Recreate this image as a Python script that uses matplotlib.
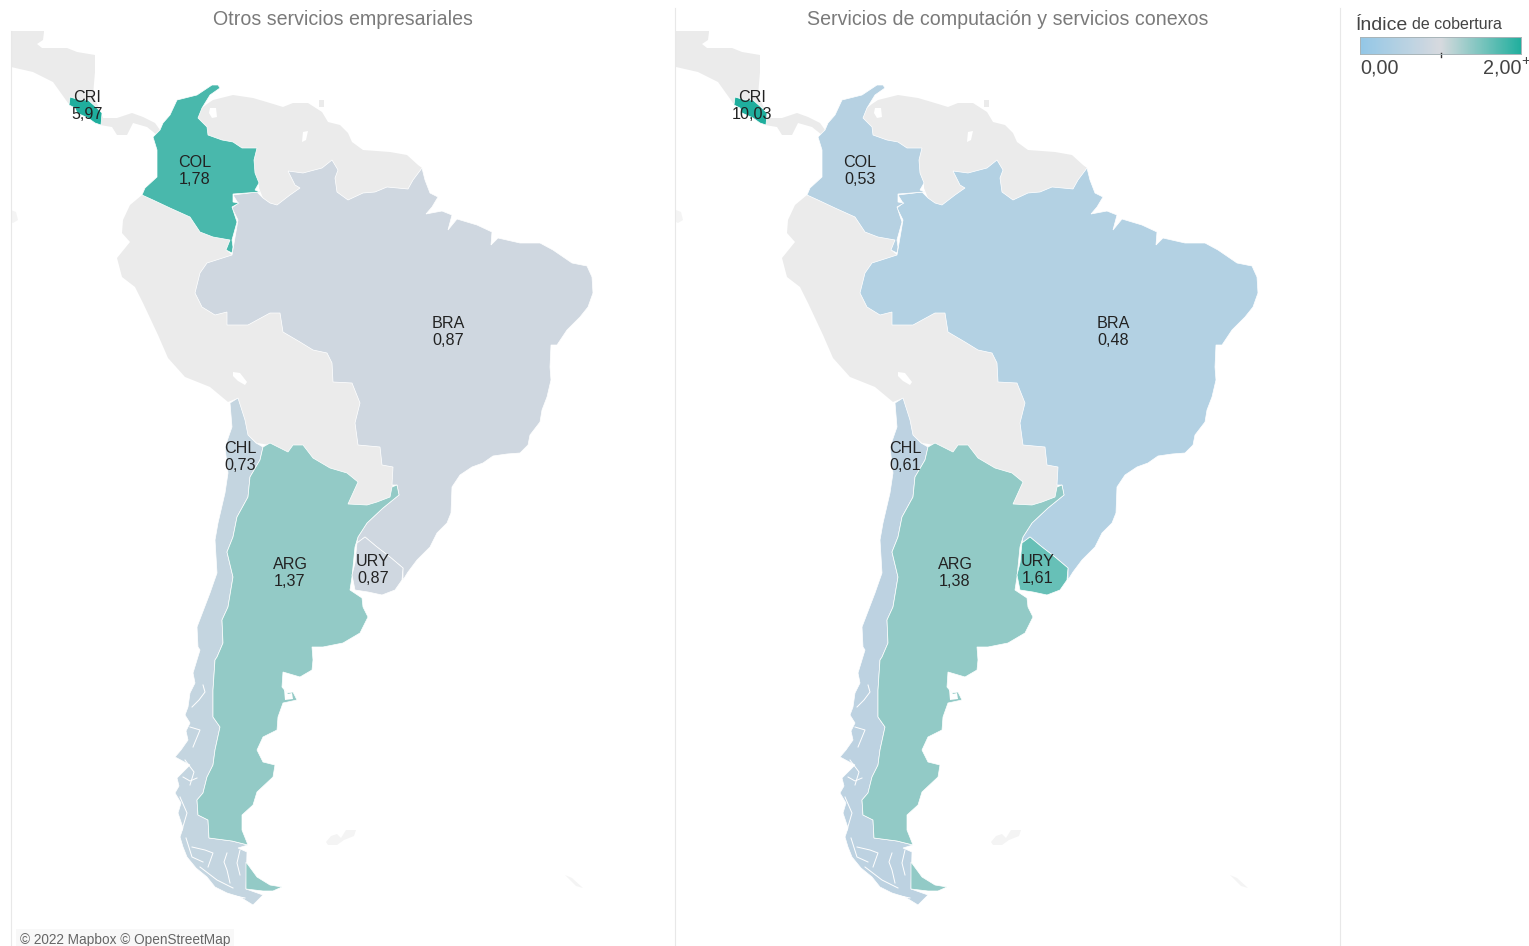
import numpy as np
import matplotlib
matplotlib.use("Agg")
import matplotlib.pyplot as plt
from matplotlib.colors import LinearSegmentedColormap, Normalize
from matplotlib.lines import Line2D

plt.rcParams['font.family'] = ['Liberation Sans', 'DejaVu Sans']

W, H = 1529, 946

# ---------- data ----------
TITLES = ["Otros servicios empresariales", "Servicios de computación y servicios conexos"]
ISO = ["ARG", "BRA", "CHL", "COL", "CRI", "URY"]
VALUES_OTROS = [1.37, 0.87, 0.73, 1.78, 5.97, 0.87]
VALUES_COMPUT = [1.38, 0.48, 0.61, 0.53, 10.03, 1.61]
LABELS_OTROS = ["1,37", "0,87", "0,73", "1,78", "5,97", "0,87"]
LABELS_COMPUT = ["1,38", "0,48", "0,61", "0,53", "10,03", "1,61"]
LEGEND_MIN, LEGEND_MID, LEGEND_MAX = 0.0, 1.0, 2.0

# Country outlines in projected web-map units (x east, y south)
ARG = [(263,447),(270,443),(288,452),(293,445),(303,445),(313,458),(330,468),(347,473),(358,482),(348,504),
       (367,505),(377,502),(390,497),(392,487),(397,485),(399,495),(383,508),(367,523),(358,537),(355,547),
       (352,577),(350,590),(362,598),(363,607),(368,617),(360,633),(343,643),(323,647),(312,647),(313,660),
       (312,670),(300,677),(283,672),(282,687),(287,693),(293,692),(297,700),(283,703),(278,717),(277,730),
       (263,737),(257,750),(263,762),(275,765),(273,777),(257,792),(253,805),(242,815),(242,830),(248,845),
       (232,841),(209,838),(208,820),(198,815),(197,800),(203,793),(207,777),(213,765),(215,750),(220,727),
       (213,717),(213,690),(215,660),(217,657),(223,643),(222,620),(228,607),(233,577),(227,552),(233,537),
       (237,517),(248,497),(250,477),(260,460)]
ARG_TDF = [(246,862),(257,877),(270,885),(282,887),(273,891),(263,891),(246,889)]
BRA = [(233,195),(257,192),(263,198),(270,203),(277,205),(290,195),(300,188),(295,185),(288,171),(303,173),
       (322,168),(332,160),(338,170),(335,178),(337,192),(348,200),(363,193),(375,192),(387,187),(408,189),
       (413,180),(422,168),(425,180),(430,193),(438,197),(432,207),(426,214),(442,211),(452,215),(448,230),
       (457,219),(477,225),(492,232),(491,245),(498,238),(520,243),(540,243),(553,250),(572,263),(587,266),
       (592,277),(593,293),(588,307),(580,317),(567,330),(557,345),(551,345),(550,367),(551,380),(547,397),
       (542,410),(540,422),(530,435),(528,445),(520,453),(507,454),(493,456),(483,463),(472,467),(460,475),
       (452,487),(451,513),(447,523),(437,533),(430,547),(417,560),(408,572),(403,580),(403,568),(390,557),
       (377,547),(365,537),(357,543),(358,537),(367,523),(383,508),(399,495),(397,485),(392,485),(393,467),
       (382,465),(380,447),(358,445),(355,423),(360,403),(352,383),(333,382),(332,363),(327,353),(313,350),
       (300,342),(283,332),(280,313),(270,313),(248,325),(227,325),(227,312),(215,315),(202,307),(195,293),
       (200,273),(207,263),(232,255),(238,220),(232,208),(238,203)]
CHL = [(230,403),(238,398),(245,420),(248,435),(256,443),(263,447),(260,460),(250,477),(248,497),(237,517),
       (233,537),(227,552),(233,577),(228,607),(222,620),(223,643),(217,657),(215,660),(213,690),(213,717),
       (220,727),(215,750),(213,765),(207,777),(203,793),(197,800),(198,815),(208,820),(209,838),(232,841),
       (248,845),(238,848),(247,852),(246,889),(263,895),(253,905),(240,897),(227,893),(215,887),(207,877),
       (196,868),(187,857),(183,847),(180,837),(183,828),(178,813),(181,803),(175,793),(179,786),(177,778),
       (190,765),(175,757),(181,750),(188,740),(186,731),(190,723),(185,715),(188,707),(190,693),(195,683),
       (193,673),(200,650),(198,647),(197,627),(210,593),(217,573),(215,540),(218,523),(225,493),(228,473),
       (225,447),(232,427)]
COL = [(218,85),(220,88),(210,95),(202,108),(198,118),(207,127),(208,135),(222,140),(233,142),(242,148),
       (257,148),(254,160),(255,173),(259,183),(255,190),(260,192),(233,194),(233,202),(239,203),(232,207),
       (237,222),(232,240),(233,247),(232,253),(226,250),(230,240),(213,237),(200,232),(190,217),(170,208),
       (153,200),(142,195),(145,188),(157,177),(157,150),(153,137),(160,130),(163,123),(170,115),(177,100),
       (197,95),(212,85)]
CRI = [(70,97),(80,100),(88,100),(97,108),(102,113),(101,125),(95,123),(88,118),(77,113),(75,108),(69,105)]
URY = [(357,543),(365,537),(377,547),(390,557),(403,568),(402,580),(395,590),(382,595),(368,592),(355,590),
       (352,575),(355,563)]
# Countries without data
CENTRAL_AMERICA = [(-5,10),(44,10),(44,32),(43,40),(37,44),(42,48),(67,48),(77,52),(95,55),(95,72),(93,95),
                   (100,110),(103,118),(117,118),(132,113),(143,117),(155,123),(160,130),(157,135),(147,127),
                   (133,123),(127,135),(117,135),(112,127),(100,125),(93,120),(80,113),(68,103),(53,82),
                   (33,72),(11,67),(-5,64)]
VEN_GUY = [(198,118),(202,108),(207,104),(213,100),(233,95),(253,98),(270,103),(283,107),(293,103),(308,103),
           (322,112),(328,122),(340,125),(348,133),(352,142),(363,150),(390,152),(407,155),(418,165),(422,168),
           (413,180),(408,189),(387,187),(375,192),(363,193),(348,200),(337,192),(335,178),(338,170),(332,160),
           (322,168),(303,173),(288,171),(295,185),(300,188),(290,195),(277,205),(270,203),(263,198),(259,188),
           (259,183),(255,173),(254,160),(257,148),(242,148),(233,142),(222,140),(208,135),(207,127)]
AND_PAR = [(142,195),(130,205),(123,220),(122,233),(130,242),(117,258),(122,277),(135,287),(143,303),(158,335),
           (168,358),(185,377),(210,387),(228,402),(238,398),(245,420),(248,435),(257,443),(270,445),(288,452),
           (293,445),(303,445),(313,458),(330,468),(347,473),(358,482),(348,504),(367,505),(377,502),(390,497),
           (393,484),(393,467),(382,465),(380,447),(358,445),(355,423),(360,403),(352,383),(333,382),(332,363),
           (327,353),(313,350),(300,342),(283,332),(280,313),(270,313),(248,325),(227,325),(227,312),(215,315),
           (202,307),(195,293),(200,273),(207,263),(232,255),(226,250),(230,240),(213,237),(200,232),(190,217),
           (170,208),(153,200)]
TRINIDAD = [(319,100),(324,100),(324,107),(319,107)]
# Very faint islands
FALKLANDS = [(326,842),(331,836),(337,834),(341,838),(346,830),(356,830),(354,836),(344,840),(337,845),(328,845)]
GALAPAGOS = [(11,210),(16,212),(18,220),(13,223),(11,222)]
GEORGIA = [(565,875),(572,878),(583,888),(576,886)]
# Water inside the land
TITICACA = [(233,372),(240,373),(247,382),(245,385),(238,381),(233,376)]
GURI = [(303,132),(308,131),(306,140),(302,142)]
MARACAIBO = [(210,108),(216,108),(217,117),(212,118),(209,113)]
VALDES = [(284,689),(288,694),(292,693),(293,699),(285,700)]
FJORDS = [[(203,685),(205,692),(199,700),(192,707)],
          [(183,777),(190,781),(197,778)],
          [(180,797),(187,813),(182,830)],
          [(192,847),(205,850),(213,853),(208,867)],
          [(227,853),(224,862),(227,870),(230,883)],
          [(200,867),(217,880),(233,888)],
          [(240,850),(237,863),(240,875)],
          [(190,727),(200,730),(193,747)],
          [(185,760),(194,772),(190,785)],
          [(186,838),(192,857),(203,862)],
          [(215,890),(230,895),(245,898)]]

COUNTRY_SHAPES = {"ARG": [ARG, ARG_TDF], "BRA": [BRA], "CHL": [CHL], "COL": [COL], "CRI": [CRI], "URY": [URY]}
DRAW_ORDER = ["BRA", "CHL", "ARG", "URY", "COL", "CRI"]
LABEL_POS = {"ARG": (290, 573), "BRA": (448, 332), "CHL": (240, 457), "COL": (195, 171), "CRI": (87, 106), "URY": (373, 570)}

# ---------- style ----------
cmap = LinearSegmentedColormap.from_list("cov", ["#8cc4e6", "#d5d8dd", "#12aa98"])
norm = Normalize(LEGEND_MIN, LEGEND_MAX)
NODATA = "#ebebeb"
FAINT = "#f4f4f4"
TXT = "#222222"


def fx(x):
    return x / W


def fy(y):
    return 1 - y / H


fig = plt.figure(figsize=(W / 100, H / 100), dpi=100, facecolor="white")


def panel(left, right, title, title_x, values, labels):
    ax = fig.add_axes([fx(left), fy(946), (right - left) / W, (946 - 31) / H])
    ax.set_xlim(11, 675)
    ax.set_ylim(946, 31)
    ax.axis("off")
    for shape in (CENTRAL_AMERICA, VEN_GUY, AND_PAR, TRINIDAD):
        x, y = zip(*shape)
        ax.fill(x, y, color=NODATA, lw=0, zorder=1)
    for shape in (FALKLANDS, GALAPAGOS, GEORGIA):
        x, y = zip(*shape)
        ax.fill(x, y, color=FAINT, lw=0, zorder=1)
    lookup = dict(zip(ISO, values))
    text_lookup = dict(zip(ISO, labels))
    for i, code in enumerate(DRAW_ORDER):
        for shape in COUNTRY_SHAPES[code]:
            x, y = zip(*shape)
            ax.fill(x, y, facecolor=cmap(norm(lookup[code]), alpha=0.94), edgecolor="white",
                    lw=0.5, zorder=2 + i)
    for shape in (TITICACA, GURI, MARACAIBO, VALDES):
        x, y = zip(*shape)
        ax.fill(x, y, color="white", lw=0, zorder=9)
    for f in FJORDS:
        x, y = zip(*f)
        ax.plot(x, y, color="white", lw=0.7, zorder=9)
    for code in ISO:
        px, py = LABEL_POS[code]
        ax.text(px, py, f"{code}\n{text_lookup[code]}", ha="center", va="center", fontsize=11.6,
                color=TXT, linespacing=1.2, zorder=10)
    fig.text(fx(title_x), fy(19.5), title, ha="center", va="center", fontsize=14.15, color="#7a7a7a")


panel(11, 675, TITLES[0], 343, VALUES_OTROS, LABELS_OTROS)
panel(676, 1340, TITLES[1], 1008, VALUES_COMPUT, LABELS_COMPUT)

# panel separators
for xp, top in ((11, 31), (675, 8), (1340, 8)):
    fig.add_artist(Line2D([fx(xp), fx(xp)], [fy(top), 0], color="#e8e8e8", lw=0.8))

# attribution
fig.text(fx(20), fy(939.5), "© 2022 Mapbox © OpenStreetMap", ha="left", va="center", fontsize=9.8, color="#666666",
         bbox=dict(facecolor="#f8f8f8", edgecolor="none", pad=2.5))

# legend
fig.text(fx(1356), fy(30), "Índice", fontsize=14, color="#444444", ha="left", va="baseline")
fig.text(fx(1412), fy(29), "de cobertura", fontsize=11.5, color="#444444", ha="left", va="baseline")
lax = fig.add_axes([fx(1360), fy(54), 161 / W, 17 / H])
lax.imshow(np.linspace(LEGEND_MIN, LEGEND_MAX, 256)[None, :], cmap=cmap, norm=norm, aspect="auto",
           extent=[LEGEND_MIN, LEGEND_MAX, 0, 1], alpha=0.94)
lax.set_xticks([])
lax.set_yticks([])
for s in lax.spines.values():
    s.set_color("#a8b4b8")
    s.set_linewidth(0.7)
lax.plot([LEGEND_MID, LEGEND_MID], [-0.16, 0.08], color="#333333", lw=1, clip_on=False)
lax.set_xlim(LEGEND_MIN, LEGEND_MAX)
lax.set_ylim(0, 1)
fig.text(fx(1360), fy(74), "0,00", fontsize=14.2, color="#444444", ha="left", va="baseline")
fig.text(fx(1521), fy(74), "2,00", fontsize=14.2, color="#444444", ha="right", va="baseline")
fig.text(fx(1521), fy(65), "+", fontsize=11, color="#444444", ha="left", va="baseline")

fig.savefig("out.png", dpi=100, facecolor="white")
